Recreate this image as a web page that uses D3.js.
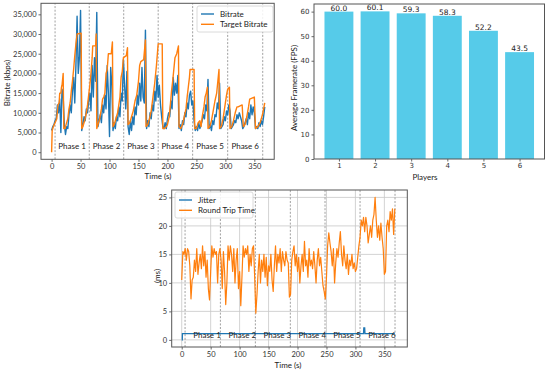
<!DOCTYPE html>
<html>
<head>
<meta charset="utf-8">
<script src="https://cdn.jsdelivr.net/npm/d3@7"></script>
<style>
  body { margin: 0; background: #fff; }
  svg { display: block; }
  .axis text { font-family: Lato, sans-serif; font-size: 7.5px; fill: #333; }
  .axis line { stroke: #444; stroke-width: 0.8; }
  .axis path { display: none; }
  .bars .axis text { font-family: "DejaVu Sans", sans-serif; font-size: 7px; }
  .lbl { font-family: Lato, sans-serif; font-size: 8px; fill: #222; }
</style>
</head>
<body>
<script>
// ---- data ----
var sampleStep = 2; // seconds between samples of bitrate and rtt

var bitrate = [5500,6500,7000,8000,8500,12000,10000,13500,5000,16000,14000,7000,4500,6500,6000,9500,12000,10000,15500,19000,
  12500,22000,34500,20000,24000,36000,5500,7000,9000,8000,11000,10000,13000,15000,10500,22000,14000,24000,18000,35500,
  6500,8000,9500,7500,12000,10000,14500,11000,22000,15000,4000,21500,17000,5500,7500,6000,9000,8000,11500,9000,
  15000,13000,23500,17000,11000,20500,6500,4500,8000,5500,9000,7000,11500,9500,14500,12000,17500,13000,21500,14000,
  12500,31000,6000,8000,6500,10000,8500,12000,10500,15500,13000,19500,14000,17000,12000,9000,6500,6000,7500,6000,
  8500,10000,9000,13000,11000,19000,14500,17500,15000,19500,6000,7000,5500,8000,7000,10000,9000,12500,11000,14500,
  15500,12000,13000,8000,5500,6500,5500,7500,6000,7000,8000,9500,8500,12000,10500,18500,6000,7000,5500,8000,
  7000,9500,9000,12500,11000,17500,6000,6500,7000,9000,8000,10500,9500,12000,10500,6000,6500,7000,8000,7500,
  9500,8500,10000,9000,8000,6000,6500,7500,8500,7000,10000,8500,12000,9500,11500,10000,6000,6500,6000,7500,
  6500,8000,7000,9000,11500];

var targetTime = [0,1,3,6,9,11,13,14,16,17,18,19,20,21,23,25,28,30,32,34,36,38,40,42,44,51,52,54,57,60,62,64,66,68,70,71,76,77,78,
  80,83,86,88,90,92,94,96,98,103,105,106,108,111,114,116,118,120,122,124,129,131,132,135,138,141,144,147,150,152,154,159,162,163,
  166,169,172,175,178,181,184,191,192,195,198,200,203,205,207,209,211,213,216,219,220,223,226,229,232,234,236,238,239,246,247,
  250,253,256,258,260,263,265,267,269,270,273,276,279,282,285,287,289,290,293,296,298,300,302,304,307,308,311,314,317,320,322,
  329,331,334,337,340,342,350,352,356,360,364,368];
var targetBitrate = [0,5500,6500,7500,8500,12000,12500,15000,15000,16500,17000,18500,20000,6000,6000,7000,8500,11000,12500,15500,
  18000,21000,24500,27500,30000,30200,6000,6500,8000,10000,12000,14500,17000,20000,24000,27000,27000,30000,6000,
  7000,8500,11000,13500,14000,15000,20000,21000,25000,25000,28000,6500,7000,8500,10000,12000,14000,19000,20500,24000,24500,26500,7000,
  7500,9000,10500,13000,14500,18000,22000,23000,23500,28500,6500,
  7000,8500,10500,14000,17500,22000,27500,27500,6000,6000,6500,7000,9000,12000,15500,18000,21000,24000,25000,27000,6500,
  6000,7000,9000,11000,14000,16500,19000,21000,21000,6000,
  6000,7500,8000,6500,9000,11500,14000,15000,16500,6000,6500,8000,10500,13000,15000,18000,21000,6000,6500,8500,10500,12500,14500,16000,
  16500,6000,6500,8000,10000,11500,11500,
  12000,6500,7000,9000,11500,13500,14000,6000,6500,7500,9500,12500];

var rtt = [10.5,15.5,15,16,14,16,15.5,13,7.2,10.5,11,14,12,16,11.5,13.5,15,12.5,16.5,13,
  15.5,11,14,9,7,12,16.5,14.5,16,15,15.5,10,15,16,14,9,15.5,12,6.2,10,
  16.5,14,16.5,15,12,16,10,14,16,9,12,6,11,16.5,14.5,16,15,16.5,12,15,
  13,16,16.5,11,4.7,8,12,15,10,14,12,15,11,14.5,9.5,13,12,15,10.5,8.5,
  13,16.5,12,15,13.5,16,12,15.5,14,13,15.5,14,13.5,7.5,8,14,15.5,16.5,13,15,
  12,14.5,10,13,15,12,17.3,13,14,11,16,13,14,12.5,15.5,13,10,14,16,13,
  14.5,12,9.5,8.5,7.2,11,16.5,18.8,17,15.5,13,16,10,13.5,16,14.5,17,19,15,13,
  16.5,14,12.5,15,11.5,14,13,15,12.5,13.5,12,12.5,14.5,16.5,18,21,20,21.5,19,21.5,
  20,17,18.5,20,18,21,22,25,21,18,20,17.5,20.5,18,16,11.5,12,20,21,19,
  22.5,21,23,18.5,23];

var jitterTime = [0, 1, 1.2, 314, 314.5, 316, 316.5, 368];
var jitter = [0, 0, 1.1, 1.1, 2.1, 2.1, 1.1, 1.1];

var phasesBitrate = [6, 65, 124.5, 184, 243.5, 304, 364.5];
var phasesNetwork = [5.8, 66.8, 127.2, 187.6, 247.5, 308, 368.4];
var phaseNames = ["Phase 1", "Phase 2", "Phase 3", "Phase 4", "Phase 5", "Phase 6"];

var players = [1, 2, 3, 4, 5, 6];
var framerate = [60.0, 60.1, 59.3, 58.3, 52.2, 43.5];

// ---- setup ----
var blue = "#1f77b4", orange = "#ff7f0e";
var svg = d3.select("body").append("svg").attr("width", 550).attr("height", 372);

function frame(g, x, y) {
  g.append("rect")
    .attr("x", x.range()[0]).attr("y", y.range()[1])
    .attr("width", x.range()[1] - x.range()[0])
    .attr("height", y.range()[0] - y.range()[1])
    .attr("fill", "none").attr("stroke", "#555").attr("stroke-width", 1);
}

function legend(g, x0, y0, w, items) {
  g.append("rect").attr("x", x0).attr("y", y0).attr("width", w).attr("height", 26)
    .attr("rx", 2).attr("fill", "#fff").attr("fill-opacity", 0.85)
    .attr("stroke", "#d0d0d0").attr("stroke-width", 0.8);
  items.forEach(function(it, i) {
    var yy = y0 + 8 + i * 10.3;
    g.append("line").attr("x1", x0 + 4).attr("x2", x0 + 17).attr("y1", yy).attr("y2", yy)
      .attr("stroke", it.color).attr("stroke-width", 1.4);
    g.append("text").attr("class", "lbl").attr("x", x0 + 23).attr("y", yy).attr("dy", "0.35em").text(it.name);
  });
}

// ---- chart 1 : bitrate ----
var g1 = svg.append("g");
var x1 = d3.scaleLinear().domain([-18.3, 384.3]).range([41, 274.2]);
var y1 = d3.scaleLinear().domain([-1800, 37800]).range([159.3, 3.3]);

g1.selectAll(".phase").data(phasesBitrate).enter().append("line")
  .attr("x1", d => x1(d)).attr("x2", d => x1(d))
  .attr("y1", y1.range()[0]).attr("y2", y1.range()[1])
  .attr("stroke", "#888").attr("stroke-width", 0.8).attr("stroke-dasharray", "2,1.6");

var line1 = d3.line().x((d, i) => x1(i * sampleStep)).y(d => y1(d));
g1.append("path").datum(bitrate).attr("d", line1)
  .attr("fill", "none").attr("stroke", blue).attr("stroke-width", 1.4).attr("stroke-linejoin", "round");
var lineT = d3.line().x((d, i) => x1(targetTime[i])).y(d => y1(d));
g1.append("path").datum(targetBitrate).attr("d", lineT)
  .attr("fill", "none").attr("stroke", orange).attr("stroke-width", 1.4).attr("stroke-linejoin", "round");

g1.selectAll(".pname").data(phaseNames).enter().append("text").attr("class", "lbl")
  .attr("x", (d, i) => (x1(phasesBitrate[i]) + x1(phasesBitrate[i + 1])) / 2)
  .attr("y", y1(1500)).attr("dy", "0.35em").attr("text-anchor", "middle").text(d => d);

g1.append("g").attr("class", "axis").attr("transform", "translate(0," + y1.range()[0] + ")")
  .call(d3.axisBottom(x1).tickValues(d3.range(0, 351, 50)).tickSize(2.5).tickPadding(2));
g1.append("g").attr("class", "axis").attr("transform", "translate(" + x1.range()[0] + ",0)")
  .call(d3.axisLeft(y1).tickValues(d3.range(0, 35001, 5000)).tickFormat(d3.format(",")).tickSize(2.5).tickPadding(2));
frame(g1, x1, y1);
legend(g1, 197, 6, 76, [{name: "Bitrate", color: blue}, {name: "Target Bitrate", color: orange}]);

g1.append("text").attr("class", "lbl").attr("text-anchor", "middle")
  .attr("x", 158).attr("y", 176).attr("dy", "0.35em").text("Time (s)");
g1.append("text").attr("class", "lbl").attr("text-anchor", "middle")
  .attr("transform", "translate(7,83) rotate(-90)").attr("dy", "0.35em").text("Bitrate (kbps)");

// ---- chart 2 : framerate ----
var g2 = svg.append("g").attr("class", "bars");
var x2 = d3.scaleLinear().domain([0.31, 6.69]).range([314, 544.5]);
var y2 = d3.scaleLinear().domain([0, 63.1]).range([159, 4]);
var barW = 0.8;

g2.selectAll("rect.bar").data(framerate).enter().append("rect").attr("class", "bar")
  .attr("x", (d, i) => x2(players[i] - barW / 2))
  .attr("width", (d, i) => x2(players[i] + barW / 2) - x2(players[i] - barW / 2))
  .attr("y", d => y2(d)).attr("height", d => y2(0) - y2(d))
  .attr("fill", "#56cbe9");
g2.selectAll("text.val").data(framerate).enter().append("text").attr("class", "val")
  .attr("x", (d, i) => x2(players[i])).attr("y", d => y2(d) - 1)
  .attr("text-anchor", "middle")
  .style("font-family", "'DejaVu Sans', sans-serif").style("font-size", "7.5px").style("fill", "#222")
  .text(d => d.toFixed(1));

g2.append("g").attr("class", "axis").attr("transform", "translate(0," + y2.range()[0] + ")")
  .call(d3.axisBottom(x2).tickValues(players).tickFormat(d3.format("d")).tickSize(2.5).tickPadding(2));
g2.append("g").attr("class", "axis").attr("transform", "translate(" + x2.range()[0] + ",0)")
  .call(d3.axisLeft(y2).tickValues(d3.range(0, 61, 10)).tickSize(2.5).tickPadding(2));
frame(g2, x2, y2);
g2.append("text").attr("class", "lbl").attr("text-anchor", "middle")
  .attr("x", 425).attr("y", 177).attr("dy", "0.35em").text("Players");
g2.append("text").attr("class", "lbl").attr("text-anchor", "middle")
  .attr("transform", "translate(294,88) rotate(-90)").attr("dy", "0.35em").text("Average Framerate (FPS)");

// ---- chart 3 : jitter / rtt ----
var g3 = svg.append("g");
var x3 = d3.scaleLinear().domain([-17.3, 389.6]).range([171.7, 407.3]);
var y3 = d3.scaleLinear().domain([-1.25, 26.3]).range([347, 190]);

var gx = d3.range(0, 351, 50), gy = d3.range(0, 26, 5);
g3.selectAll(".gx").data(gx).enter().append("line")
  .attr("x1", d => x3(d)).attr("x2", d => x3(d)).attr("y1", y3.range()[0]).attr("y2", y3.range()[1])
  .attr("stroke", "#c8c8c8").attr("stroke-width", 0.8);
g3.selectAll(".gy").data(gy).enter().append("line")
  .attr("y1", d => y3(d)).attr("y2", d => y3(d)).attr("x1", x3.range()[0]).attr("x2", x3.range()[1])
  .attr("stroke", "#c8c8c8").attr("stroke-width", 0.8);
g3.selectAll(".phase").data(phasesNetwork).enter().append("line")
  .attr("x1", d => x3(d)).attr("x2", d => x3(d))
  .attr("y1", y3.range()[0]).attr("y2", y3.range()[1])
  .attr("stroke", "#888").attr("stroke-width", 0.8).attr("stroke-dasharray", "2,1.6");

var lineJ = d3.line().x((d, i) => x3(jitterTime[i])).y(d => y3(d));
g3.append("path").datum(jitter).attr("d", lineJ)
  .attr("fill", "none").attr("stroke", blue).attr("stroke-width", 1.3);
var lineR = d3.line().x((d, i) => x3(i * sampleStep)).y(d => y3(d));
g3.append("path").datum(rtt).attr("d", lineR)
  .attr("fill", "none").attr("stroke", orange).attr("stroke-width", 1.2).attr("stroke-linejoin", "round");

g3.selectAll(".pname").data(phaseNames).enter().append("text").attr("class", "lbl")
  .attr("x", (d, i) => x3(phasesNetwork[i] + 14))
  .attr("y", y3(0.8)).attr("dy", "0.35em").text(d => d);

g3.append("g").attr("class", "axis").attr("transform", "translate(0," + y3.range()[0] + ")")
  .call(d3.axisBottom(x3).tickValues(gx).tickSize(2.5).tickPadding(2));
g3.append("g").attr("class", "axis").attr("transform", "translate(" + x3.range()[0] + ",0)")
  .call(d3.axisLeft(y3).tickValues(gy).tickSize(2.5).tickPadding(2));
frame(g3, x3, y3);
legend(g3, 175, 192, 78, [{name: "Jitter", color: blue}, {name: "Round Trip Time", color: orange}]);

g3.append("text").attr("class", "lbl").attr("text-anchor", "middle")
  .attr("x", 288).attr("y", 365).attr("dy", "0.35em").text("Time (s)");
g3.append("text").attr("class", "lbl").attr("text-anchor", "middle")
  .attr("transform", "translate(157,276) rotate(-90)").attr("dy", "0.35em").text("(ms)");
</script>
</body>
</html>
